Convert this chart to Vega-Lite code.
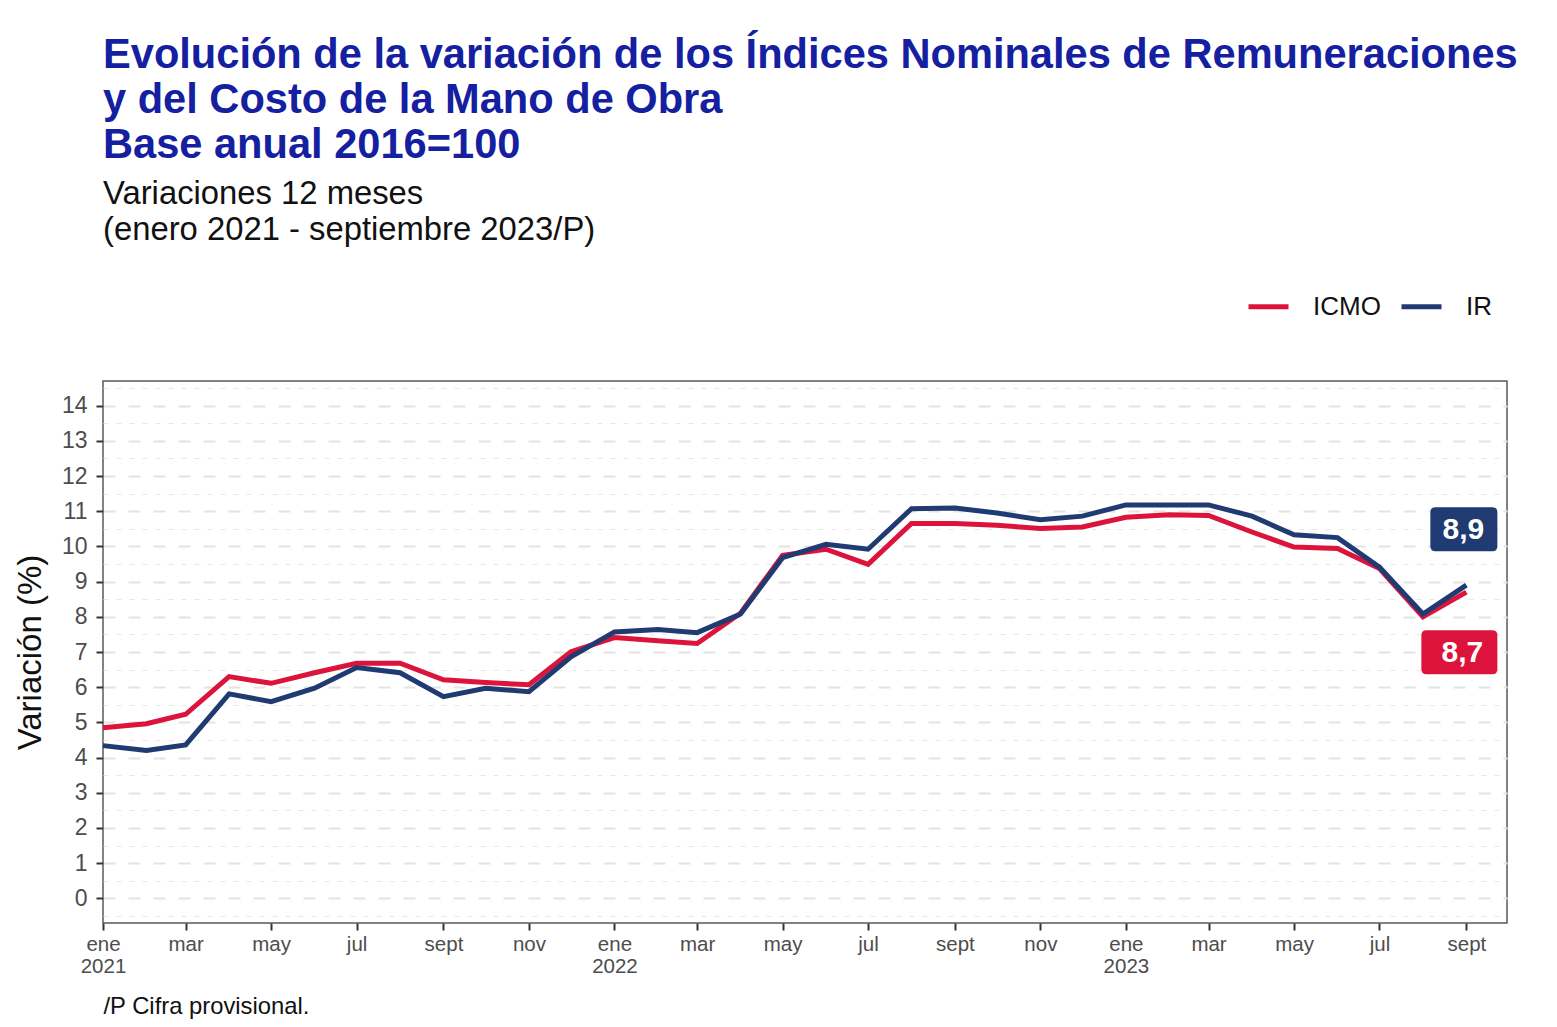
{
  "$schema": "https://vega.github.io/schema/vega-lite/v6.json",
  "autosize": "none",
  "width": 1404,
  "height": 542,
  "padding": {"left": 103, "top": 381, "right": 50, "bottom": 104},
  "background": "white",
  "config": {
    "font": "Liberation Sans",
    "view": {"stroke": "#5a5a5a", "strokeWidth": 1.5}
  },
  "title": {
    "text": ["Evolución de la variación de los Índices Nominales de Remuneraciones", "y del Costo de la Mano de Obra", "Base anual 2016=100"],
    "subtitle": ["Variaciones 12 meses", "(enero 2021 - septiembre 2023/P)"],
    "anchor": "start",
    "frame": "group",
    "fontSize": 41.6,
    "lineHeight": 45,
    "fontWeight": "bold",
    "color": "#1420a0",
    "subtitleFontSize": 32.8,
    "subtitleLineHeight": 36,
    "subtitleColor": "#111111",
    "subtitleFontWeight": "normal",
    "subtitlePadding": 12,
    "offset": 37
  },
  "datasets": {
    "serie": [
      {"fecha": "2021-01-01", "serie": "ICMO", "valor": 4.85},
      {"fecha": "2021-02-01", "serie": "ICMO", "valor": 4.96},
      {"fecha": "2021-03-01", "serie": "ICMO", "valor": 5.23},
      {"fecha": "2021-04-01", "serie": "ICMO", "valor": 6.30},
      {"fecha": "2021-05-01", "serie": "ICMO", "valor": 6.11},
      {"fecha": "2021-06-01", "serie": "ICMO", "valor": 6.41},
      {"fecha": "2021-07-01", "serie": "ICMO", "valor": 6.68},
      {"fecha": "2021-08-01", "serie": "ICMO", "valor": 6.68},
      {"fecha": "2021-09-01", "serie": "ICMO", "valor": 6.21},
      {"fecha": "2021-10-01", "serie": "ICMO", "valor": 6.13},
      {"fecha": "2021-11-01", "serie": "ICMO", "valor": 6.07},
      {"fecha": "2021-12-01", "serie": "ICMO", "valor": 7.01},
      {"fecha": "2022-01-01", "serie": "ICMO", "valor": 7.41},
      {"fecha": "2022-02-01", "serie": "ICMO", "valor": 7.32},
      {"fecha": "2022-03-01", "serie": "ICMO", "valor": 7.24},
      {"fecha": "2022-04-01", "serie": "ICMO", "valor": 8.10},
      {"fecha": "2022-05-01", "serie": "ICMO", "valor": 9.75},
      {"fecha": "2022-06-01", "serie": "ICMO", "valor": 9.92},
      {"fecha": "2022-07-01", "serie": "ICMO", "valor": 9.49},
      {"fecha": "2022-08-01", "serie": "ICMO", "valor": 10.65},
      {"fecha": "2022-09-01", "serie": "ICMO", "valor": 10.65},
      {"fecha": "2022-10-01", "serie": "ICMO", "valor": 10.60},
      {"fecha": "2022-11-01", "serie": "ICMO", "valor": 10.51},
      {"fecha": "2022-12-01", "serie": "ICMO", "valor": 10.55},
      {"fecha": "2023-01-01", "serie": "ICMO", "valor": 10.83},
      {"fecha": "2023-02-01", "serie": "ICMO", "valor": 10.90},
      {"fecha": "2023-03-01", "serie": "ICMO", "valor": 10.88},
      {"fecha": "2023-04-01", "serie": "ICMO", "valor": 10.41},
      {"fecha": "2023-05-01", "serie": "ICMO", "valor": 9.98},
      {"fecha": "2023-06-01", "serie": "ICMO", "valor": 9.94},
      {"fecha": "2023-07-01", "serie": "ICMO", "valor": 9.37},
      {"fecha": "2023-08-01", "serie": "ICMO", "valor": 8.00},
      {"fecha": "2023-09-01", "serie": "ICMO", "valor": 8.70},
      {"fecha": "2021-01-01", "serie": "IR", "valor": 4.34},
      {"fecha": "2021-02-01", "serie": "IR", "valor": 4.20},
      {"fecha": "2021-03-01", "serie": "IR", "valor": 4.36},
      {"fecha": "2021-04-01", "serie": "IR", "valor": 5.81},
      {"fecha": "2021-05-01", "serie": "IR", "valor": 5.59},
      {"fecha": "2021-06-01", "serie": "IR", "valor": 5.97},
      {"fecha": "2021-07-01", "serie": "IR", "valor": 6.56},
      {"fecha": "2021-08-01", "serie": "IR", "valor": 6.41},
      {"fecha": "2021-09-01", "serie": "IR", "valor": 5.73},
      {"fecha": "2021-10-01", "serie": "IR", "valor": 5.97},
      {"fecha": "2021-11-01", "serie": "IR", "valor": 5.87},
      {"fecha": "2021-12-01", "serie": "IR", "valor": 6.86},
      {"fecha": "2022-01-01", "serie": "IR", "valor": 7.57},
      {"fecha": "2022-02-01", "serie": "IR", "valor": 7.64},
      {"fecha": "2022-03-01", "serie": "IR", "valor": 7.55},
      {"fecha": "2022-04-01", "serie": "IR", "valor": 8.08},
      {"fecha": "2022-05-01", "serie": "IR", "valor": 9.68},
      {"fecha": "2022-06-01", "serie": "IR", "valor": 10.06},
      {"fecha": "2022-07-01", "serie": "IR", "valor": 9.92},
      {"fecha": "2022-08-01", "serie": "IR", "valor": 11.07},
      {"fecha": "2022-09-01", "serie": "IR", "valor": 11.09},
      {"fecha": "2022-10-01", "serie": "IR", "valor": 10.95},
      {"fecha": "2022-11-01", "serie": "IR", "valor": 10.76},
      {"fecha": "2022-12-01", "serie": "IR", "valor": 10.86},
      {"fecha": "2023-01-01", "serie": "IR", "valor": 11.18},
      {"fecha": "2023-02-01", "serie": "IR", "valor": 11.18},
      {"fecha": "2023-03-01", "serie": "IR", "valor": 11.18},
      {"fecha": "2023-04-01", "serie": "IR", "valor": 10.86},
      {"fecha": "2023-05-01", "serie": "IR", "valor": 10.33},
      {"fecha": "2023-06-01", "serie": "IR", "valor": 10.25},
      {"fecha": "2023-07-01", "serie": "IR", "valor": 9.41},
      {"fecha": "2023-08-01", "serie": "IR", "valor": 8.08},
      {"fecha": "2023-09-01", "serie": "IR", "valor": 8.90}
    ],
    "etiquetas": [
      {"fecha": "2023-09-01", "serie": "ICMO", "valor": 8.7, "etiqueta": "8,7"},
      {"fecha": "2023-09-01", "serie": "IR", "valor": 8.9, "etiqueta": "8,9"}
    ]
  },
  "encoding": {
    "x": {
      "field": "fecha",
      "type": "temporal",
      "scale": {
        "type": "utc",
        "domain": [
          {"year": 2021, "month": 1, "date": 1, "utc": true},
          {"year": 2023, "month": 9, "date": 30, "utc": true}
        ]
      },
      "axis": {
        "values": [
          {"year": 2021, "month": 1, "date": 1, "utc": true},
          {"year": 2021, "month": 3, "date": 1, "utc": true},
          {"year": 2021, "month": 5, "date": 1, "utc": true},
          {"year": 2021, "month": 7, "date": 1, "utc": true},
          {"year": 2021, "month": 9, "date": 1, "utc": true},
          {"year": 2021, "month": 11, "date": 1, "utc": true},
          {"year": 2022, "month": 1, "date": 1, "utc": true},
          {"year": 2022, "month": 3, "date": 1, "utc": true},
          {"year": 2022, "month": 5, "date": 1, "utc": true},
          {"year": 2022, "month": 7, "date": 1, "utc": true},
          {"year": 2022, "month": 9, "date": 1, "utc": true},
          {"year": 2022, "month": 11, "date": 1, "utc": true},
          {"year": 2023, "month": 1, "date": 1, "utc": true},
          {"year": 2023, "month": 3, "date": 1, "utc": true},
          {"year": 2023, "month": 5, "date": 1, "utc": true},
          {"year": 2023, "month": 7, "date": 1, "utc": true},
          {"year": 2023, "month": 9, "date": 1, "utc": true}
        ],
        "labelExpr": "utcmonth(datum.value) == 0 ? ['ene', '' + utcyear(datum.value)] : ['ene','feb','mar','abr','may','jun','jul','ago','sept','oct','nov','dic'][utcmonth(datum.value)]",
        "labelFontSize": 20.5,
        "labelColor": "#4d4d4d",
        "labelLineHeight": 22,
        "labelPadding": 4,
        "labelFlush": false,
        "labelOverlap": false,
        "tickSize": 7,
        "tickWidth": 2,
        "tickColor": "#333333",
        "domain": false,
        "grid": false,
        "title": "/P Cifra provisional.",
        "titleFontSize": 23.8,
        "titleFontWeight": "normal",
        "titleColor": "#111111",
        "titleAnchor": "start",
        "titleAlign": "left",
        "titleBaseline": "alphabetic",
        "titleX": 0,
        "titleY": 90
      }
    }
  },
  "layer": [
    {
      "data": {"name": "serie"},
      "mark": {"type": "line", "strokeWidth": 5},
      "encoding": {
        "y": {
          "field": "valor",
          "type": "quantitative",
          "scale": {"domain": [-0.7, 14.7], "nice": false, "zero": false},
          "axis": {
            "values": [0, 1, 2, 3, 4, 5, 6, 7, 8, 9, 10, 11, 12, 13, 14],
            "title": "Variación (%)",
            "titleFontSize": 33,
            "titleFontWeight": "normal",
            "titleColor": "#111111",
            "titlePadding": 14,
            "labelFontSize": 23,
            "labelColor": "#4d4d4d",
            "labelPadding": 9,
            "tickSize": 7,
            "tickWidth": 2,
            "tickColor": "#333333",
            "domain": false,
            "grid": true,
            "gridDash": [12, 13],
            "gridColor": "#e4e4e4",
            "gridWidth": 2
          }
        },
        "color": {
          "field": "serie",
          "type": "nominal",
          "scale": {"domain": ["ICMO", "IR"], "range": ["#dc143c", "#203a72"]},
          "legend": {
            "orient": "none",
            "legendX": 1143,
            "legendY": -97,
            "direction": "horizontal",
            "title": null,
            "symbolType": "stroke",
            "symbolStrokeWidth": 5,
            "symbolSize": 1600,
            "labelFontSize": 26,
            "labelColor": "#111111",
            "labelOffset": 22,
            "columnPadding": 10
          }
        }
      }
    },
    {
      "data": {"name": "etiquetas"},
      "transform": [{"filter": "datum.serie == 'IR'"}],
      "mark": {
        "type": "point",
        "shape": "M-1.296,-1 L1.296,-1 Q1.523,-1 1.523,-0.773 L1.523,0.773 Q1.523,1 1.296,1 L-1.296,1 Q-1.523,1 -1.523,0.773 L-1.523,-0.773 Q-1.523,-1 -1.296,-1 Z",
        "filled": true,
        "opacity": 1,
        "color": "#203a72",
        "size": 1936,
        "xOffset": -2.5,
        "yOffset": -56
      },
      "encoding": {
        "y": {
          "field": "valor",
          "type": "quantitative",
          "axis": {
            "orient": "left",
            "values": [-0.5, 0.5, 1.5, 2.5, 3.5, 4.5, 5.5, 6.5, 7.5, 8.5, 9.5, 10.5, 11.5, 12.5, 13.5, 14.5],
            "labels": false,
            "ticks": false,
            "domain": false,
            "title": null,
            "grid": true,
            "gridDash": [5, 8],
            "gridColor": "#e8e8e8",
            "gridWidth": 1
          }
        }
      }
    },
    {
      "data": {"name": "etiquetas"},
      "transform": [{"filter": "datum.serie == 'ICMO'"}],
      "mark": {
        "type": "point",
        "shape": "M-1.5,-1 L1.5,-1 Q1.727,-1 1.727,-0.773 L1.727,0.773 Q1.727,1 1.5,1 L-1.5,1 Q-1.727,1 -1.727,0.773 L-1.727,-0.773 Q-1.727,-1 -1.5,-1 Z",
        "filled": true,
        "opacity": 1,
        "color": "#dc143c",
        "size": 1936,
        "xOffset": -7,
        "yOffset": 60
      },
      "encoding": {
        "y": {"field": "valor", "type": "quantitative", "axis": null}
      }
    },
    {
      "data": {"name": "etiquetas"},
      "transform": [{"filter": "datum.serie == 'IR'"}],
      "mark": {
        "type": "text",
        "color": "white",
        "fontWeight": "bold",
        "fontSize": 30,
        "align": "center",
        "baseline": "middle",
        "xOffset": -3,
        "yOffset": -55
      },
      "encoding": {
        "y": {"field": "valor", "type": "quantitative", "axis": null},
        "text": {"field": "etiqueta"}
      }
    },
    {
      "data": {"name": "etiquetas"},
      "transform": [{"filter": "datum.serie == 'ICMO'"}],
      "mark": {
        "type": "text",
        "color": "white",
        "fontWeight": "bold",
        "fontSize": 30,
        "align": "center",
        "baseline": "middle",
        "xOffset": -4,
        "yOffset": 61
      },
      "encoding": {
        "y": {"field": "valor", "type": "quantitative", "axis": null},
        "text": {"field": "etiqueta"}
      }
    }
  ],
  "resolve": {"axis": {"y": "independent"}}
}
